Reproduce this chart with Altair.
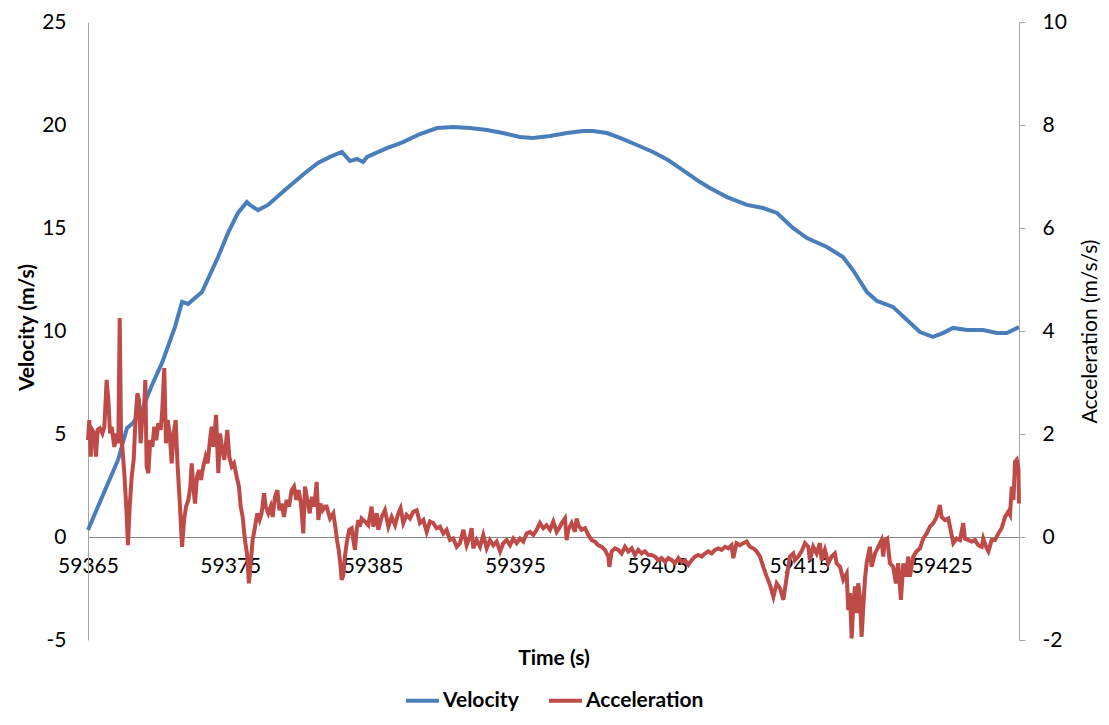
import altair as alt
import pandas as pd

# ---- Velocity series (time in s, velocity in m/s) ----
vel_time = [59365.00, 59366.05, 59367.11, 59367.74, 59368.16, 59368.87, 59369.50, 59370.20,
            59371.11, 59371.61, 59372.03, 59372.52, 59373.01, 59374.14, 59374.84, 59375.54,
            59376.17, 59376.38, 59376.95, 59377.65, 59378.84, 59380.25, 59381.16, 59382.01,
            59382.85, 59383.41, 59383.90, 59384.33, 59384.61, 59386.01, 59387.14, 59388.33,
            59389.53, 59390.65, 59391.85, 59393.04, 59394.16, 59395.36, 59396.27, 59397.47,
            59398.66, 59399.79, 59400.49, 59401.47, 59402.39, 59403.58, 59404.71, 59405.76,
            59406.60, 59408.01, 59408.71, 59409.91, 59411.31, 59412.44, 59413.42, 59414.54,
            59415.53, 59416.93, 59418.06, 59418.76, 59419.74, 59420.45, 59421.57, 59422.56,
            59423.47, 59424.38, 59425.08, 59425.79, 59426.77, 59427.90, 59428.88, 59429.58,
            59430.43]
vel_value = [0.34, 2.04, 3.74, 5.29, 5.53, 6.31, 7.38, 8.45,
             10.19, 11.41, 11.31, 11.60, 11.89, 13.59, 14.76, 15.73,
             16.26, 16.12, 15.87, 16.12, 16.84, 17.67, 18.16, 18.45,
             18.69, 18.25, 18.35, 18.20, 18.45, 18.88, 19.17, 19.56,
             19.85, 19.90, 19.85, 19.76, 19.61, 19.42, 19.37, 19.47,
             19.61, 19.71, 19.71, 19.61, 19.37, 19.03, 18.69, 18.30,
             17.91, 17.23, 16.94, 16.50, 16.12, 15.97, 15.73, 15.00,
             14.51, 14.08, 13.59, 12.96, 11.89, 11.46, 11.17, 10.53,
             9.95, 9.71, 9.90, 10.15, 10.05, 10.05, 9.90, 9.90,
             10.19]

# ---- Acceleration series (time in s, acceleration in m/s/s) ----
acc_time = [
    59365.00, 59365.09, 59365.19, 59365.30, 59365.45, 59365.56, 59365.68, 59365.84, 59366.01, 59366.15,
    59366.31, 59366.43, 59366.55, 59366.66, 59366.85, 59367.01, 59367.13, 59367.23, 59367.32, 59367.41,
    59367.55, 59367.69, 59367.81, 59367.93, 59368.07, 59368.21, 59368.35, 59368.47, 59368.58, 59368.70,
    59368.82, 59368.94, 59369.03, 59369.12, 59369.24, 59369.38, 59369.52, 59369.66, 59369.80, 59369.94,
    59370.11, 59370.22, 59370.36, 59370.48, 59370.60, 59370.74, 59370.88, 59371.02, 59371.16, 59371.30,
    59371.44, 59371.61, 59371.75, 59371.89, 59372.05, 59372.19, 59372.29, 59372.40, 59372.52, 59372.66,
    59372.80, 59372.94, 59373.10, 59373.27, 59373.41, 59373.57, 59373.69, 59373.83, 59374.00, 59374.16,
    59374.28, 59374.44, 59374.58, 59374.79, 59374.93, 59375.10, 59375.26, 59375.45, 59375.61, 59375.73,
    59375.87, 59376.03, 59376.17, 59376.31, 59376.43, 59376.57, 59376.74, 59376.90, 59377.06, 59377.20,
    59377.37, 59377.49, 59377.67, 59377.84, 59377.98, 59378.14, 59378.31, 59378.45, 59378.61, 59378.77,
    59378.96, 59379.13, 59379.31, 59379.48, 59379.64, 59379.80, 59379.97, 59380.13, 59380.25, 59380.41,
    59380.58, 59380.74, 59380.91, 59381.07, 59381.19, 59381.33, 59381.49, 59381.65,
    59381.77, 59382.01, 59382.24, 59382.38, 59382.50, 59382.62, 59382.73, 59382.83, 59382.94, 59383.06,
    59383.18, 59383.36, 59383.53, 59383.65, 59383.76, 59383.88, 59384.00, 59384.11, 59384.23, 59384.47,
    59384.70, 59384.93, 59385.05, 59385.29, 59385.40, 59385.64, 59385.87, 59386.11, 59386.34, 59386.58,
    59386.81, 59386.97, 59387.16, 59387.39, 59387.63, 59387.86, 59388.10, 59388.33, 59388.57, 59388.80,
    59389.03, 59389.27, 59389.50, 59389.74, 59389.97, 59390.20, 59390.44, 59390.67, 59390.91, 59391.14,
    59391.38, 59391.61, 59391.84, 59391.96, 59392.08, 59392.31, 59392.55, 59392.78, 59393.02, 59393.25,
    59393.49, 59393.72, 59393.96, 59394.19, 59394.42, 59394.66, 59394.89, 59395.13, 59395.36, 59395.59,
    59395.83, 59396.06, 59396.30, 59396.53, 59396.76, 59397.00, 59397.23, 59397.47, 59397.70, 59397.94,
    59398.17,
    59398.29, 59398.52, 59398.64, 59398.75, 59398.99, 59399.22, 59399.34, 59399.46, 59399.69, 59399.93,
    59400.16, 59400.40, 59400.63, 59400.86, 59401.10, 59401.33, 59401.57, 59401.64, 59401.80, 59402.03,
    59402.27, 59402.50, 59402.74, 59402.97, 59403.21, 59403.44, 59403.67, 59403.91, 59404.14, 59404.38,
    59404.61, 59404.85, 59405.08, 59405.31, 59405.55, 59405.78, 59406.02, 59406.25, 59406.49, 59406.72,
    59406.95, 59407.19, 59407.42, 59407.66, 59407.89, 59408.13, 59408.36, 59408.59, 59408.83, 59409.06,
    59409.30, 59409.53, 59409.77, 59410.00, 59410.23, 59410.35, 59410.58, 59410.82, 59411.05, 59411.29,
    59411.52, 59411.76, 59411.99, 59412.23, 59412.46, 59412.70, 59412.93, 59413.17, 59413.40, 59413.64,
    59413.87, 59414.11, 59414.33, 59414.57, 59414.68,
    59414.92, 59415.15, 59415.39, 59415.62, 59415.74, 59415.97, 59416.21, 59416.44, 59416.56, 59416.79,
    59417.03, 59417.26, 59417.49, 59417.61, 59417.85, 59418.08, 59418.32, 59418.43, 59418.55, 59418.67,
    59418.78, 59418.90, 59419.02, 59419.13, 59419.25, 59419.37, 59419.49, 59419.60, 59419.72, 59419.95,
    59420.07, 59420.31, 59420.54, 59420.77, 59420.89, 59421.01, 59421.17, 59421.36, 59421.59, 59421.78,
    59421.94, 59422.13, 59422.30, 59422.48, 59422.65, 59422.76, 59423.00, 59423.23, 59423.47, 59423.70,
    59423.94, 59424.17, 59424.41, 59424.64, 59424.87, 59424.99, 59425.23, 59425.46, 59425.58, 59425.81,
    59426.05, 59426.28, 59426.51, 59426.63, 59426.87, 59427.10, 59427.34, 59427.57, 59427.81, 59427.92,
    59428.16, 59428.28, 59428.51, 59428.74, 59428.98, 59429.21, 59429.45, 59429.68, 59429.80, 59429.92,
    59430.04, 59430.15, 59430.27, 59430.39, 59430.43]
acc_value = [
    1.88, 2.27, 1.56, 2.08, 2.01, 1.56, 2.08, 2.11, 2.01, 2.14,
    3.05, 2.66, 2.01, 2.14, 1.75, 2.01, 1.82, 4.25, 2.01, 1.75,
    1.24, 0.59, -0.16, 0.59, 1.17, 1.50, 2.34, 2.79, 2.66, 1.82,
    2.34, 2.47, 3.05, 1.37, 1.24, 1.88, 1.75, 2.14, 1.88, 2.21,
    2.08, 2.47, 3.28, 1.82, 2.27, 2.01, 1.43, 2.01, 2.27, 1.37,
    0.72, -0.19, 0.33, 0.59, 0.72, 0.98, 1.43, 0.98, 0.65, 1.17,
    1.30, 1.11, 1.37, 1.56, 1.43, 1.88, 2.14, 1.75, 2.37, 1.24,
    2.01, 1.69, 1.50, 2.08, 1.56, 1.37, 1.43, 1.17, 0.98, 0.59,
    0.39, -0.06, -0.32, -0.90, -0.51, -0.06, 0.20, 0.46, 0.33, 0.46,
    0.85, 0.59, 0.46, 0.59, 0.39, 0.78, 0.91, 0.52, 0.65, 0.39,
    0.72, 0.59, 0.91, 0.98, 0.72, 0.91, 0.65, 0.07, 0.98, 0.72,
    0.46, 0.78, 0.59, 1.07, 0.33, 0.65, 0.52, 0.59,
    0.59, 0.36, 0.46, 0.20, -0.06, -0.25, -0.51, -0.83, -0.74, -0.38,
    -0.12, 0.14, 0.17, -0.06, -0.25, 0.14, 0.33, 0.20, 0.36, 0.30,
    0.23, 0.59, 0.20, 0.46, 0.14, 0.39, 0.52, 0.20, 0.39, 0.23,
    0.46, 0.56, 0.27, 0.43, 0.36, 0.49, 0.52, 0.27, 0.33, 0.10,
    0.30, 0.27, 0.17, 0.20, 0.07, 0.14, -0.06, -0.03, -0.19, -0.12,
    0.14, -0.16, 0.01, 0.17, -0.22, -0.06, -0.19, 0.04, -0.22, -0.06,
    -0.16, -0.09, -0.28, -0.12, -0.06, -0.16, -0.03, -0.12, -0.03, -0.09,
    0.07, 0.10, 0.04, 0.14, 0.27, 0.17, 0.23, 0.14, 0.30, 0.10,
    0.20,
    0.27, 0.36, -0.06, 0.14, 0.27, 0.10, 0.36, 0.23, 0.14, 0.17,
    0.04, -0.06, -0.09, -0.16, -0.19, -0.25, -0.38, -0.58, -0.28, -0.22,
    -0.25, -0.32, -0.19, -0.28, -0.22, -0.35, -0.25, -0.32, -0.28, -0.35,
    -0.35, -0.38, -0.45, -0.41, -0.48, -0.41, -0.45, -0.51, -0.41, -0.48,
    -0.45, -0.54, -0.45, -0.38, -0.35, -0.38, -0.32, -0.28, -0.32, -0.25,
    -0.22, -0.25, -0.19, -0.22, -0.16, -0.41, -0.12, -0.16, -0.12, -0.09,
    -0.19, -0.22, -0.28, -0.38, -0.58, -0.77, -0.93, -1.16, -0.90, -1.00,
    -1.22, -0.77, -0.38, -0.32, -0.45,
    -0.38, -0.28, -0.12, -0.19, -0.45, -0.19, -0.32, -0.12, -0.45, -0.25,
    -0.51, -0.38, -0.32, -0.51, -0.58, -0.83, -0.71, -1.42, -1.09, -1.97,
    -1.35, -0.96, -1.48, -0.90, -1.16, -1.94, -1.35, -0.83, -0.51, -0.19,
    -0.58, -0.32, -0.19, -0.06, -0.38, -0.06, -0.03, -0.51, -0.58, -0.90,
    -0.51, -1.22, -0.51, -0.77, -0.38, -0.77, -0.38, -0.28, -0.22, -0.03,
    0.07, 0.20, 0.27, 0.39, 0.62, 0.39, 0.33, 0.36, 0.20, -0.12,
    -0.03, -0.06, 0.27, -0.03, -0.06, -0.09, -0.06, -0.16, -0.19, -0.03,
    -0.22, -0.28, -0.06, -0.06, 0.07, 0.17, 0.39, 0.49, 0.43, 0.98,
    0.72, 1.46, 1.50, 1.33, 0.65]

time_ticks = [59365, 59375, 59385, 59395, 59405, 59415, 59425]
vel_ticks = [-5, 0, 5, 10, 15, 20, 25]
acc_ticks = [-2, 0, 2, 4, 6, 8, 10]
series_names = ["Velocity", "Acceleration"]
series_colors = ["#4A7EBB", "#BE4B48"]

vel_df = pd.DataFrame({"time": vel_time, "value": vel_value, "series": "Velocity"})
acc_df = pd.DataFrame({"time": acc_time, "value": acc_value, "series": "Acceleration"})

FONT = "Lato"
LBL = 21
TTL = 21

x_enc = alt.X(
    "time:Q",
    scale=alt.Scale(domain=[59365, 59430.43], nice=False, zero=False),
    axis=alt.Axis(
        values=time_ticks, labelExpr="'' + datum.value", orient="bottom", offset=-103,
        ticks=False, grid=False, domainColor="#868686", domainWidth=1,
        labelFont=FONT, labelFontSize=LBL, labelColor="#000000", labelPadding=18,
        labelFlush=False, labelOverlap=False,
        title="Time (s)", titleFont=FONT, titleFontSize=TTL, titleFontWeight="bold",
        titleColor="#000000", titleY=121, titleBaseline="middle",
    ),
)

color_enc = alt.Color(
    "series:N",
    scale=alt.Scale(domain=series_names, range=series_colors),
    legend=alt.Legend(
        title=None, orient="none", legendX=316, legendY=660, direction="horizontal",
        symbolType="stroke", symbolStrokeWidth=4, symbolSize=1089,
        labelFont=FONT, labelFontSize=LBL, labelFontWeight="bold", labelColor="#000000",
        labelOffset=2, columnPadding=22,
    ),
)

vel_line = alt.Chart(vel_df).mark_line(strokeWidth=4).encode(
    x=x_enc,
    y=alt.Y(
        "value:Q",
        scale=alt.Scale(domain=[-5, 25], nice=False, zero=False),
        axis=alt.Axis(
            orient="left", values=vel_ticks, labelExpr="'' + datum.value",
            ticks=False, grid=False, domainColor="#A6A6A6", domainWidth=1,
            labelFont=FONT, labelFontSize=LBL, labelColor="#000000", labelPadding=22,
            title="Velocity (m/s)", titleFont=FONT, titleFontSize=TTL, titleFontWeight="bold",
            titleColor="#000000", titleAngle=270, titleX=-61, titleY=305,
            titleAlign="center", titleBaseline="middle",
        ),
    ),
    color=color_enc,
)

acc_line = alt.Chart(acc_df).mark_line(strokeWidth=4).encode(
    x=x_enc,
    y=alt.Y(
        "value:Q",
        scale=alt.Scale(domain=[-2, 10], nice=False, zero=False),
        axis=alt.Axis(
            orient="right", values=acc_ticks, labelExpr="'' + datum.value",
            ticks=True, tickSize=6, tickColor="#A6A6A6",
            grid=False, domainColor="#A6A6A6", domainWidth=1,
            labelFont=FONT, labelFontSize=LBL, labelColor="#000000", labelPadding=17,
            title="Acceleration  (m/s/s)", titleFont=FONT, titleFontSize=TTL,
            titleFontWeight="normal", titleColor="#000000", titleAngle=270,
            titleX=71, titleY=309, titleAlign="center", titleBaseline="middle",
        ),
    ),
    color=color_enc,
)

chart = (
    alt.layer(vel_line, acc_line)
    .resolve_scale(y="independent")
    .properties(
        width=931, height=618,
        autosize=alt.AutoSizeParams(type="none"),
        padding={"left": 80, "top": 14, "right": 82, "bottom": 77},
        background="#FFFFFF",
    )
    .configure_view(strokeWidth=0)
)

chart.save("out.html", embed_options={"renderer": "svg", "actions": False})
